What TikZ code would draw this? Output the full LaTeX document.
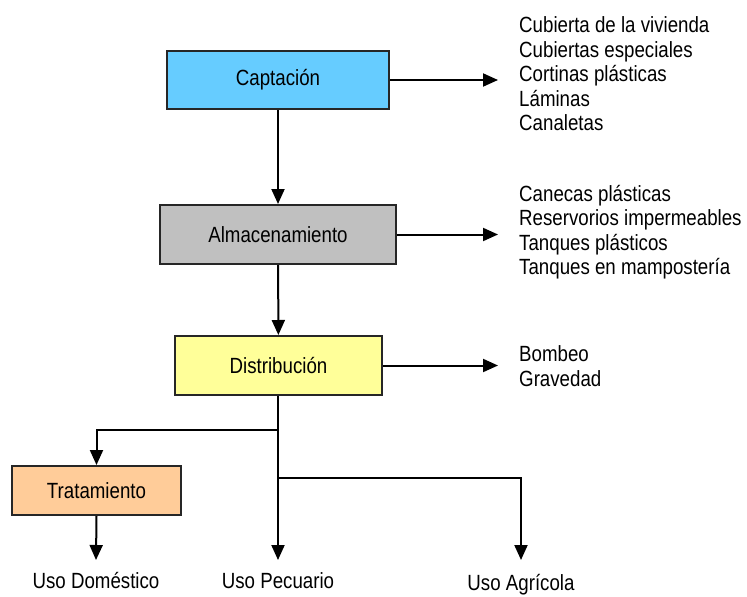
\documentclass[tikz,border=0pt]{standalone}
\usepackage{fontspec}
\setmainfont{Liberation Sans}[FakeStretch=0.85]
\usetikzlibrary{arrows.meta}
\definecolor{capc}{HTML}{66CCFF}
\definecolor{almc}{HTML}{C0C0C0}
\definecolor{disc}{HTML}{FFFF99}
\definecolor{trac}{HTML}{FFCC99}
\begin{document}
\begin{tikzpicture}[x=1pt,y=-1pt,
  every node/.style={font=\fontsize{22}{24.5}\selectfont},
  box/.style={draw=black!85, line width=2pt, minimum width=#1, inner sep=0pt},
  arr/.style={line width=2pt, -{Triangle[length=15pt,width=13pt]}},
  ln/.style={line width=2pt},
  lst/.style={anchor=west, align=left, inner ysep=0pt, inner xsep=21pt},
  use/.style={anchor=north, inner ysep=12pt}]
\useasboundingbox (0,0) rectangle (747,597);
\node[box=222pt, minimum height=58pt, fill=capc] (cap) at (278,80) {Captación};
\node[box=236pt, minimum height=59pt, fill=almc] (alm) at (278,234.5) {Almacenamiento};
\node[box=207pt, minimum height=59pt, fill=disc] (dis) at (278.5,365.5) {Distribución};
\node[box=169pt, minimum height=49pt, fill=trac] (tra) at (96.5,490.5) {Tratamiento};
\node[lst] (capL) at (498,74) {Cubierta de la vivienda\\Cubiertas especiales\\Cortinas plásticas\\Láminas\\Canaletas};
\node[lst] (almL) at (498,232) {Canecas plásticas\\Reservorios impermeables\\Tanques plásticos\\Tanques en mampostería};
\node[lst] (disL) at (498,366) {Bombeo\\Gravedad};
\node[use] (dom) at (96,560) {Uso Doméstico};
\node[use] (pec) at (278,560) {Uso Pecuario};
\node[use] (agr) at (521,562) {Uso Agrícola};
\coordinate (j1) at (278,430);
\coordinate (j2) at (278,478);
\draw[arr] (cap) -- (alm);
\draw[arr] (alm) -- (dis);
\draw[arr] (cap.east) -- (capL.west |- cap.east);
\draw[arr] (alm.east) -- (almL.west |- alm.east);
\draw[arr] (dis.east) -- (disL.west |- dis.east);
\draw[ln] (dis.south -| j1) -- (j1);
\draw[arr] (j1) -| (tra.north);
\draw[arr] (j1) -- (pec.north);
\draw[arr] (j2) -| ([yshift=2pt]agr.north);
\draw[arr] (tra.south) -- (dom.north);
\end{tikzpicture}
\end{document}
